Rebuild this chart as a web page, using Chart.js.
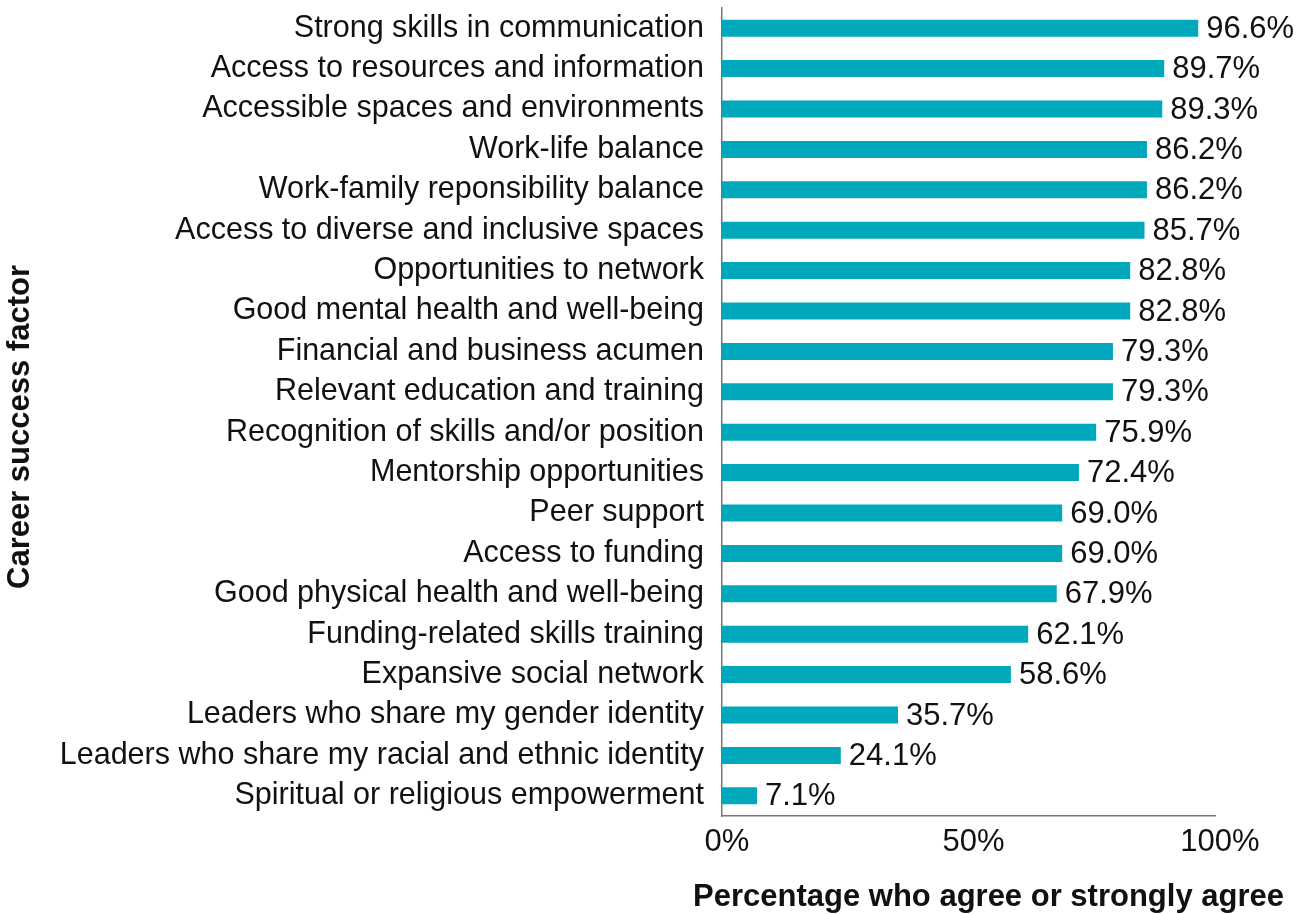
<!DOCTYPE html>
<html>
<head>
<meta charset="utf-8">
<script src="https://cdn.jsdelivr.net/npm/chart.js@4.4.1/dist/chart.umd.min.js"></script>
<style>
  html, body { margin: 0; padding: 0; background: #fff; }
  #wrap { width: 1307px; height: 914px; position: relative; }
</style>
</head>
<body>
<div id="wrap"><canvas id="chart"></canvas></div>
<script>
const factors = [
  "Strong skills in communication",
  "Access to resources and information",
  "Accessible spaces and environments",
  "Work-life balance",
  "Work-family reponsibility balance",
  "Access to diverse and inclusive spaces",
  "Opportunities to network",
  "Good mental health and well-being",
  "Financial and business acumen",
  "Relevant education and training",
  "Recognition of skills and/or position",
  "Mentorship opportunities",
  "Peer support",
  "Access to funding",
  "Good physical health and well-being",
  "Funding-related skills training",
  "Expansive social network",
  "Leaders who share my gender identity",
  "Leaders who share my racial and ethnic identity",
  "Spiritual or religious empowerment"
];
const agreePct = [96.6, 89.7, 89.3, 86.2, 86.2, 85.7, 82.8, 82.8, 79.3, 79.3,
                  75.9, 72.4, 69.0, 69.0, 67.9, 62.1, 58.6, 35.7, 24.1, 7.1];
const xTicks = [0, 50, 100];
const xTitle = "Percentage who agree or strongly agree";
const yTitle = "Career success factor";

const FONT = "'Liberation Sans', Arial, Helvetica, sans-serif";

// value labels + axis titles (drawn by hand so the long x title is not squeezed)
const extras = {
  id: "extras",
  afterDraw(chart){
    const ctx = chart.ctx;
    const area = chart.chartArea;
    const meta = chart.getDatasetMeta(0);
    ctx.save();
    ctx.font = "31px " + FONT;
    ctx.fillStyle = "#111";
    ctx.textAlign = "left";
    ctx.textBaseline = "middle";
    meta.data.forEach((bar, i) => {
      ctx.fillText(agreePct[i].toFixed(1) + "%", bar.x + 8, bar.y + 1);
    });

    ctx.font = "bold 31px " + FONT;
    ctx.textAlign = "center";
    ctx.fillText(xTitle, (area.left + area.right) / 2 + 20, chart.height - 17);

    ctx.translate(20, (area.top + area.bottom) / 2 + 15);
    ctx.rotate(-Math.PI / 2);
    ctx.fillText(yTitle, 0, 0);
    ctx.restore();
  }
};

new Chart(document.getElementById("chart"), {
  type: "bar",
  data: {
    labels: factors,
    datasets: [{
      data: agreePct,
      backgroundColor: "#00A8BB",
      barPercentage: 0.42,
      categoryPercentage: 1.0
    }]
  },
  options: {
    indexAxis: "y",
    responsive: true,
    maintainAspectRatio: false,
    animation: false,
    layout: { padding: { top: 8, right: 92, bottom: 0, left: 0 } },
    plugins: { legend: { display: false }, tooltip: { enabled: false } },
    scales: {
      x: {
        min: 0, max: 100,
        afterBuildTicks(axis){ axis.ticks = xTicks.map(v => ({ value: v })); },
        afterFit(scale){
          scale.height = 98;
          scale.paddingLeft = 0; scale.paddingRight = 0;
        },
        grid: { display: false, drawTicks: false },
        border: { display: true, color: "#777", width: 1.5 },
        ticks: {
          padding: 8,
          labelOffset: 5,
          color: "#111",
          maxRotation: 0,
          font: { family: FONT, size: 31 },
          callback: v => v + "%"
        }
      },
      y: {
        afterFit(scale){
          scale.width = 722;
          scale.paddingTop = 0; scale.paddingBottom = 0;
        },
        grid: { display: false, drawTicks: false },
        border: { display: true, color: "#777", width: 1.5 },
        ticks: {
          padding: 18,
          color: "#111",
          autoSkip: false,
          font: { family: FONT, size: 30.5 }
        }
      }
    }
  },
  plugins: [extras]
});
</script>
</body>
</html>
